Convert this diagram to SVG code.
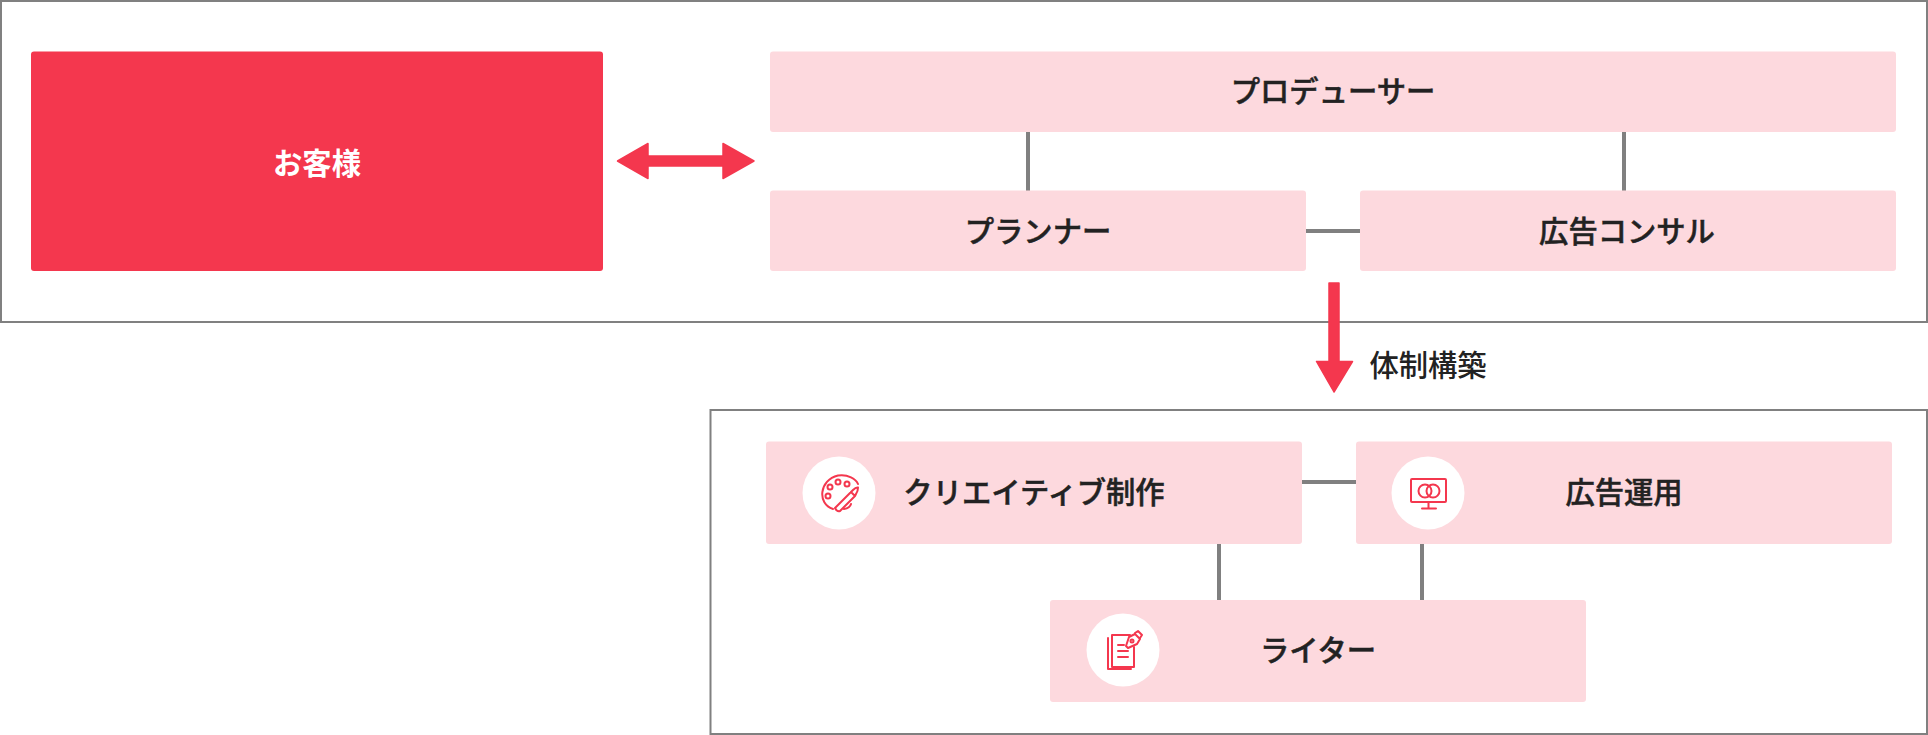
<svg xmlns="http://www.w3.org/2000/svg" width="1928" height="735" viewBox="0 0 1928 735">
<style>
.frame{fill:#fff;stroke:#808080;stroke-width:2}
.box{fill:#fdd9de}
.main{fill:#f4374e}
.conn{stroke:#808080;stroke-width:4;fill:none}
.arrow{fill:#f4374e;stroke:#f4374e;stroke-width:1.500;stroke-linejoin:round}
.t{font-family:"Noto Sans CJK JP","Noto Sans",sans-serif;font-size:29.300px;font-weight:500;fill:#222;stroke:#222;stroke-width:.5;text-anchor:middle}
.plain{stroke:none}
.disc{fill:#fff}
.ic{fill:none;stroke:#f4374e;stroke-width:2;stroke-linecap:round;stroke-linejoin:round}
</style>
<rect width="1928" height="735" fill="#fff"/>
<rect class="frame" x="1" y="1" width="1926" height="321"/>
<rect class="frame" x="710.500" y="410" width="1216.500" height="324"/>
<g id="connectors">
<path class="conn" d="M1028 132V191M1624 132V191M1306 231H1360M1302 482H1356M1219 544V600M1422 544V600"/>
<path class="arrow" d="M617.500 161L648 143.500V156H723V143.500L754 161L723 178.500V166H648V178.500Z"/>
<path class="arrow" d="M1329 283H1339V361.500H1352.500L1334 392L1316.500 361.500H1329Z"/>
</g>
<g id="client"><rect class="main" x="31" y="51.500" width="572" height="219.500" rx="3"/><text x="317" y="174" class="t" style="fill:#fff;stroke:none;font-weight:700">お客様</text></g>
<g id="producer"><rect class="box" x="770" y="51.500" width="1126" height="80.500" rx="3"/><text x="1333" y="102" class="t">プロデューサー</text></g>
<g id="planner"><rect class="box" x="770" y="190.500" width="536" height="80.500" rx="3"/><text x="1038" y="242" class="t">プランナー</text></g>
<g id="consul"><rect class="box" x="1360" y="190.500" width="536" height="80.500" rx="3"/><text x="1627" y="242" class="t">広告コンサル</text></g>
<text x="1428" y="376" class="t plain">体制構築</text>
<g id="creative"><rect class="box" x="766" y="441.500" width="536" height="102.500" rx="3"/><circle class="disc" cx="839" cy="493" r="36.500"/>
<text x="1034" y="503" class="t">クリエイティブ制作</text>
<g class="ic"><path d="M833 509C817 504 819 480 838 475.500C848 474 856 479 858 484"/><circle cx="830" cy="487" r="2.500"/><circle cx="838" cy="482" r="2.500"/><circle cx="847" cy="484" r="2.500"/><circle cx="828" cy="496" r="2.500"/><path d="M835 508L851 492L855 496L840 511Q837 512 835 508ZM853 490Q856 487 858 487.500Q858 491 856 494L855 496L851 492Z"/><path d="M844 509Q850 508 851 504"/></g></g>
<g id="unyo"><rect class="box" x="1356" y="441.500" width="536" height="102.500" rx="3"/><circle class="disc" cx="1428" cy="493" r="36.500"/>
<text x="1624" y="503" class="t">広告運用</text>
<g class="ic"><rect x="1411" y="479" width="35" height="23" rx="1"/><circle cx="1425" cy="491" r="6.500"/><circle cx="1433" cy="491" r="6.500"/><path d="M1428.500 502V508M1422 508.500H1436"/></g></g>
<g id="writer"><rect class="box" x="1050" y="600" width="536" height="102" rx="3"/><circle class="disc" cx="1123" cy="650" r="36.500"/>
<text x="1318" y="661" class="t">ライター</text>
<g class="ic"><path d="M1130 635H1112V667H1134V647M1108 638V669H1131"/><path d="M1118 645H1124M1118 651H1128M1118 657H1128"/><path d="M1126 646L1129 637L1135 634L1140 639L1137 644L1128 648ZM1135 633L1138 631L1142 635L1140 638"/><circle cx="1132" cy="641" r="1.500"/></g></g>
</svg>
